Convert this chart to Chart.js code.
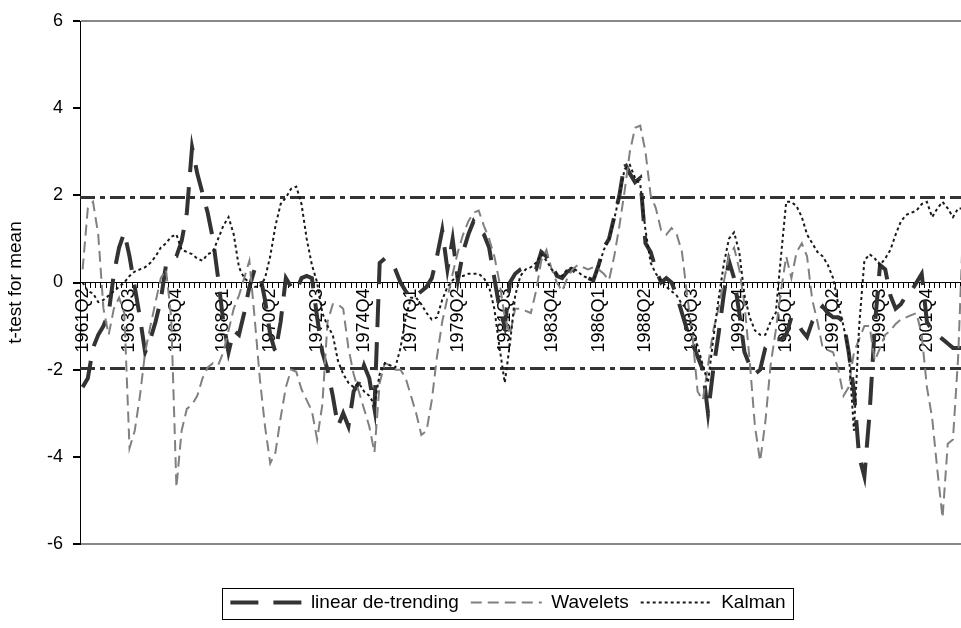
<!DOCTYPE html>
<html>
<head>
<meta charset="utf-8">
<script src="https://cdn.jsdelivr.net/npm/chart.js@4.4.1/dist/chart.umd.min.js"></script>
<style>
  html, body { margin: 0; padding: 0; background: #fff; overflow: hidden; }
  #wrap { position: relative; width: 966px; height: 628px; }
</style>
</head>
<body>
<div id="wrap"><canvas id="tChart"></canvas></div>
<script>
// quarters 1961Q2 .. 2003Q3
const firstYear = 1961, firstQuarter = 2, nQuarters = 170;
const tickLabels = ['1961Q2','1963Q3','1965Q4','1968Q1','1970Q2','1972Q3','1974Q4','1977Q1','1979Q2',
  '1981Q3','1983Q4','1986Q1','1988Q2','1990Q3','1992Q4','1995Q1','1997Q2','1999Q3','2001Q4'];
const criticalValues = [1.96, -1.96];

const linearDetrending = [-2.4,-2.2,-1.5,-1.2,-1.0,-0.7,0.2,0.8,1.15,0.6,
  -0.1,-0.8,-1.6,-1.3,-0.9,-0.4,0.4,0.55,0.6,0.95,
  1.6,3.1,2.5,2.05,1.6,1.0,0.1,-0.9,-1.6,-1.1,
  -1.2,-0.7,-0.1,0.3,0.2,-0.4,-1.2,-1.6,-0.9,0.1,
  -0.1,-0.2,0.1,0.15,0.1,-0.8,-1.6,-2.0,-2.6,-3.3,
  -3.0,-3.3,-2.5,-2.3,-1.9,-2.2,-2.9,0.45,0.55,0.5,
  0.3,0.0,-0.2,-0.35,-0.3,-0.2,-0.1,0.1,0.6,1.2,
  0.3,1.0,0.05,0.7,1.1,1.4,1.2,1.1,0.8,0.1,
  -0.6,-1.0,0.0,0.2,0.3,0.35,0.3,0.3,0.7,0.6,
  0.4,0.15,0.1,0.25,0.3,0.2,0.15,0.1,0.05,0.4,
  0.8,1.0,1.5,2.0,2.75,2.5,2.3,2.4,0.9,0.7,
  0.3,0.0,0.1,0.0,-0.3,-0.7,-1.1,-1.4,-1.7,-2.0,
  -3.0,-2.0,-1.2,-0.3,0.5,0.1,-0.7,-1.6,-1.9,-2.1,
  -2.0,-1.5,-1.35,-1.3,-1.3,-1.2,-0.8,-0.9,-1.1,-1.25,
  -0.9,-0.7,-0.55,-0.7,-0.8,-0.8,-0.9,-1.6,-2.5,-4.0,
  -4.45,-3.0,-1.0,0.4,0.3,-0.3,-0.6,-0.5,-0.3,-0.2,
  0.0,0.2,-0.9,-1.1,-1.2,-1.3,-1.4,-1.5,-1.5,-1.5];

const wavelets = [0.3,1.7,1.85,1.1,-0.6,-1.2,-0.6,-0.35,-0.7,-3.8,
  -3.4,-2.6,-1.6,-1.0,-0.45,0.1,0.3,-0.8,-4.7,-3.4,
  -2.9,-2.8,-2.6,-2.2,-1.95,-1.85,-1.9,-1.6,-1.1,-0.6,
  -0.3,0.1,0.5,-0.8,-2.2,-3.3,-4.15,-3.9,-3.1,-2.4,
  -2.0,-2.05,-2.45,-2.7,-2.95,-3.6,-2.8,-0.9,-0.5,-0.5,
  -0.6,-1.5,-2.1,-2.5,-2.9,-3.3,-3.9,-2.3,-1.85,-1.9,
  -2.0,-2.0,-2.2,-2.6,-3.0,-3.5,-3.4,-2.7,-1.7,-0.9,
  -0.35,0.2,0.7,1.1,1.4,1.6,1.65,1.3,1.0,0.6,
  0.0,-0.8,-1.2,-0.6,-0.6,-0.65,-0.7,-0.2,0.5,0.75,
  0.3,0.0,-0.2,0.1,0.3,0.4,0.35,0.3,0.35,0.3,
  0.2,0.05,0.6,1.3,2.1,3.0,3.55,3.6,3.0,2.0,
  1.7,1.2,1.1,1.25,1.1,0.7,-0.3,-1.2,-2.5,-2.7,
  -1.9,-1.1,-0.6,0.0,0.6,0.8,0.3,-0.5,-1.8,-3.3,
  -4.1,-3.2,-1.9,-1.1,-0.2,0.6,0.1,0.7,0.9,0.6,
  -0.4,-0.9,-1.5,-1.55,-1.6,-2.0,-2.6,-2.4,-1.6,-1.3,
  -1.0,-1.0,-1.8,-1.5,-1.2,-1.1,-0.95,-0.85,-0.8,-0.75,
  -0.7,-1.2,-2.4,-3.1,-4.3,-5.4,-3.7,-3.6,-1.7,1.5];

const kalman = [0.0,-0.2,-0.25,-0.45,-0.4,-0.3,-0.2,-0.1,0.0,0.15,
  0.25,0.3,0.35,0.45,0.6,0.8,0.9,1.05,1.1,0.75,
  0.7,0.65,0.55,0.5,0.65,0.7,1.0,1.3,1.5,1.1,
  0.35,0.1,0.0,-0.1,-0.1,0.1,0.6,1.3,1.8,1.95,
  2.15,2.2,1.8,1.0,0.4,0.0,-0.7,-1.0,-1.2,-1.8,
  -2.1,-2.3,-2.4,-2.3,-2.5,-2.6,-2.8,-2.1,-1.85,-1.9,
  -1.95,-1.5,-0.8,-0.35,-0.35,-0.5,-0.7,-0.85,-0.8,-0.4,
  -0.1,0.05,0.15,0.15,0.2,0.2,0.2,0.1,-0.1,-0.6,
  -1.5,-2.3,-1.4,-0.3,0.15,0.3,0.35,0.45,0.65,0.5,
  0.3,0.2,0.15,0.3,0.35,0.25,0.15,0.1,0.05,0.35,
  0.75,1.0,1.45,2.0,2.6,2.7,2.4,2.25,1.2,0.45,
  0.2,0.05,-0.1,-0.2,-0.3,-0.5,-0.6,-1.1,-1.45,-1.9,
  -2.3,-1.3,-0.4,0.4,1.0,1.15,0.7,-0.3,-0.8,-1.1,
  -1.2,-1.2,-0.9,-0.7,0.6,1.85,1.85,1.75,1.5,1.1,
  0.9,0.7,0.6,0.4,0.1,-0.5,-1.0,-1.6,-3.4,-1.0,
  0.5,0.65,0.55,0.4,0.55,0.75,1.1,1.4,1.55,1.6,
  1.65,1.8,1.85,1.5,1.7,1.85,1.7,1.5,1.7,1.7];

var quarters = [];
for (var i = 0; i < nQuarters; i++) {
  var q = firstQuarter - 1 + i;
  quarters.push((firstYear + Math.floor(q / 4)) + 'Q' + (q % 4 + 1));
}

const FONT = "'Liberation Sans', Arial, sans-serif";
Chart.defaults.font.family = FONT;
Chart.defaults.font.size = 18;
Chart.defaults.color = '#000';

// dash-dot lines at the 5% critical values
const criticalLines = {
  id: 'criticalLines',
  beforeDatasetsDraw(chart) {
    const ctx = chart.ctx, area = chart.chartArea, y = chart.scales.y;
    ctx.save();
    ctx.strokeStyle = '#333';
    ctx.lineWidth = 3;
    ctx.setLineDash([15, 5, 5, 5]);
    criticalValues.forEach(function (v) {
      const py = Math.round(y.getPixelForValue(v)) + 0.5;
      ctx.beginPath();
      ctx.moveTo(area.left, py);
      ctx.lineTo(area.right, py);
      ctx.stroke();
    });
    ctx.restore();
  }
};

// legend sits lower and a bit to the right, in a frame
const LEGEND_DX = 25, LEGEND_DY = 37, LEGEND_FONT = 19, LEGEND_PAD = 12;
const legendFrame = {
  id: 'legendFrame',
  afterLayout(chart) {
    const lg = chart.legend;
    lg.left += LEGEND_DX; lg.right += LEGEND_DX;
    lg.top += LEGEND_DY; lg.bottom += LEGEND_DY;
  },
  afterDraw(chart) {
    const lg = chart.legend;
    const pad = lg.options.labels.padding;
    const rowW = lg.lineWidths[0];
    const x0 = (lg.left + pad + lg.right - rowW) / 2;
    const x1 = x0 + rowW - pad;
    const midY = lg.top + pad + LEGEND_FONT / 2;
    const ctx = chart.ctx;
    ctx.save();
    ctx.strokeStyle = '#000';
    ctx.lineWidth = 1;
    ctx.setLineDash([]);
    ctx.strokeRect(Math.round(x0 - 8) + 0.5, Math.round(midY - 15) + 0.5, Math.round(x1 - x0 + 16), 31);
    ctx.restore();
  }
};

new Chart(document.getElementById('tChart'), {
  type: 'line',
  data: {
    labels: quarters,
    datasets: [
      { label: 'linear de-trending', data: linearDetrending, borderColor: '#333333',
        borderWidth: 4, borderDash: [28, 15], order: 2 },
      { label: 'Wavelets', data: wavelets, borderColor: '#808080',
        borderWidth: 2, borderDash: [11, 6], order: 1 },
      { label: 'Kalman', data: kalman, borderColor: '#1a1a1a',
        borderWidth: 2, borderDash: [3, 3], order: 0 }
    ]
  },
  options: {
    responsive: true,
    maintainAspectRatio: false,
    animation: false,
    layout: { padding: { top: 21, right: 0, bottom: 43, left: 0 } },
    elements: {
      point: { radius: 0 },
      line: { tension: 0, fill: false, borderCapStyle: 'butt' }
    },
    scales: {
      x: {
        type: 'category',
        position: { y: 0 },
        offset: true,
        afterFit: function (s) { s.height = 0; s.paddingLeft = 0; s.paddingRight = 0; },
        border: { display: true, color: '#000', width: 1 },
        grid: { display: true, offset: true, drawOnChartArea: false, drawTicks: true,
          tickLength: 5, color: '#000' },
        ticks: {
          autoSkip: false, minRotation: 90, maxRotation: 90, padding: 1,
          font: { size: 18 },
          callback: function (val) {
            const lab = this.getLabelForValue(val);
            return tickLabels.indexOf(lab) >= 0 ? lab : '';
          }
        }
      },
      y: {
        min: -6, max: 6,
        afterFit: function (s) { s.width = 80; },
        border: { display: true, color: '#000', width: 1 },
        grid: {
          drawOnChartArea: true, tickLength: 7, tickColor: '#000',
          color: function (c) { return (c.tick && Math.abs(c.tick.value) === 6) ? '#888' : 'rgba(0,0,0,0)'; },
          lineWidth: 2
        },
        ticks: { stepSize: 2, padding: 10, font: { size: 18 } },
        title: { display: true, text: 't-test for mean', font: { size: 19 }, padding: { top: 4, bottom: 0 } }
      }
    },
    plugins: {
      legend: {
        position: 'bottom',
        labels: {
          usePointStyle: true, pointStyle: 'line', pointStyleWidth: 71,
          boxHeight: LEGEND_FONT, padding: LEGEND_PAD, font: { size: LEGEND_FONT },
          sort: function (a, b) { return a.datasetIndex - b.datasetIndex; },
          generateLabels: function (chart) {
            const items = Chart.defaults.plugins.legend.labels.generateLabels(chart);
            items.forEach(function (it) {
              const ds = chart.data.datasets[it.datasetIndex];
              it.lineDash = ds.borderDash;
              it.lineWidth = ds.borderWidth;
              it.strokeStyle = ds.borderColor;
            });
            return items;
          }
        }
      },
      tooltip: { enabled: false }
    }
  },
  plugins: [criticalLines, legendFrame]
});
</script>
</body>
</html>
